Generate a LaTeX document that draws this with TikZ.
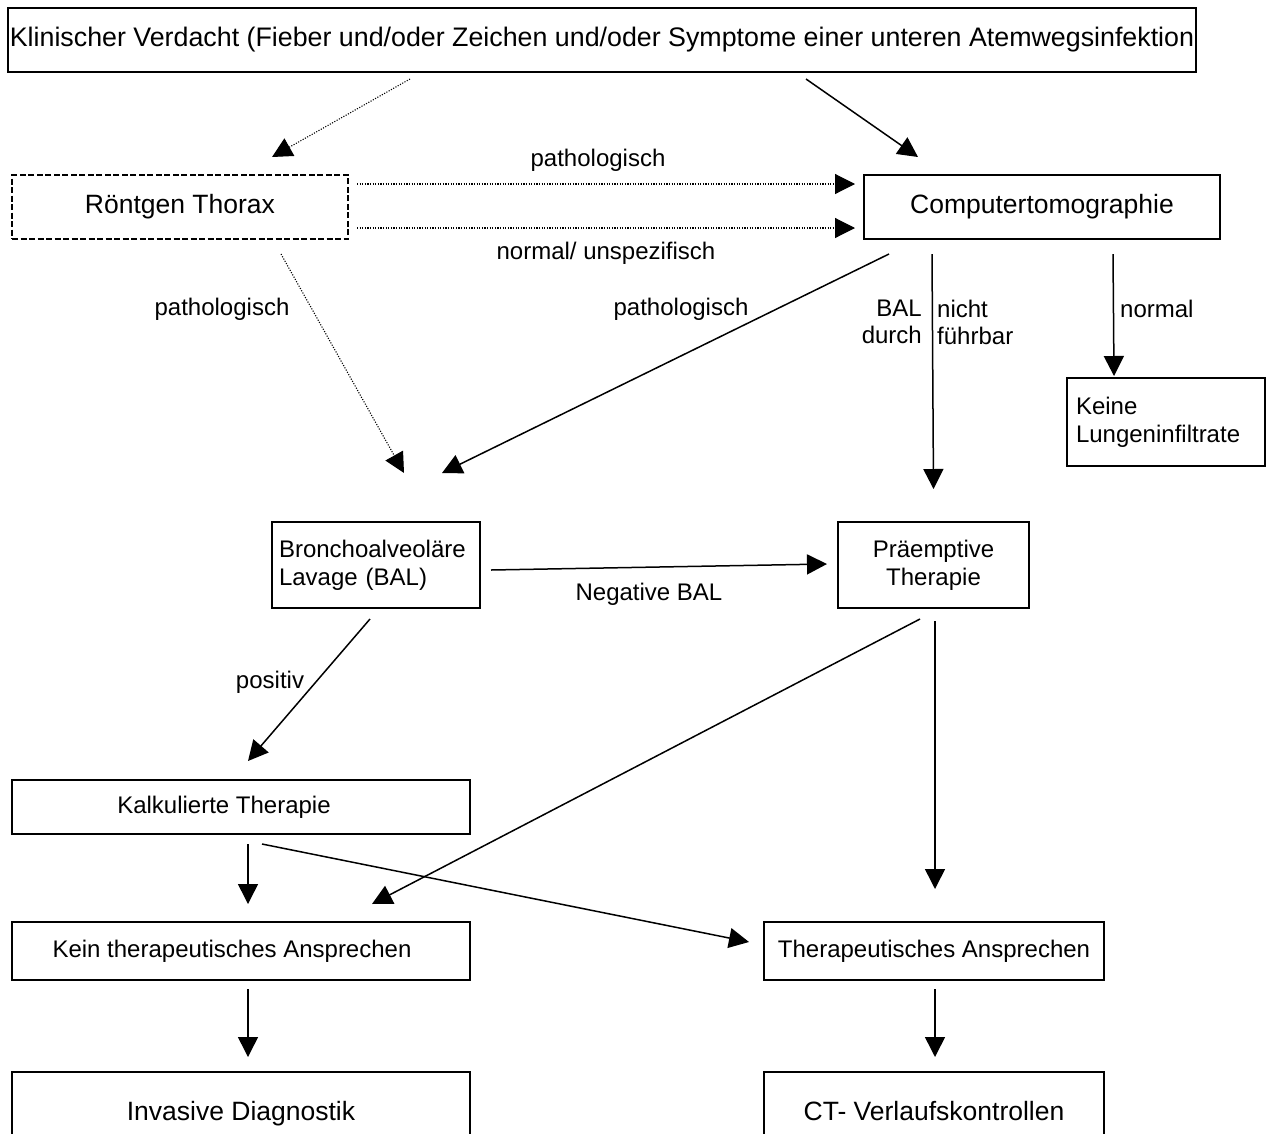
\documentclass[tikz,border=0pt]{standalone}
\usepackage{fontspec}
\setmainfont{Liberation Sans}
\usetikzlibrary{arrows.meta, positioning}

\begin{document}
\begin{tikzpicture}[x=1pt, y=-1pt,
    box/.style={draw, line width=2pt, inner sep=0pt, align=center, font=\fontsize{24}{28}\selectfont},
    bigtext/.style={font=\fontsize{26.5}{30}\selectfont},
    dashbox/.style={box, dash pattern=on 6pt off 2.5pt},
    arr/.style={line width=1.5pt, -{Triangle[length=20pt, width=20pt]}},
    dotarr/.style={arr, line width=1.1pt, dash pattern=on 1.1pt off 1.5pt},
    lbl/.style={inner sep=0pt, font=\fontsize{24}{27}\selectfont}]
        \useasboundingbox (0,0) rectangle (1266,1133);
        \clip (0,0) rectangle (1266,1133);

        % Boxes
        \node[box, font=\fontsize{26.8}{30}\selectfont, minimum width=1188pt, minimum height=64pt] (verdacht) at (602,40) {Klinischer Verdacht (Fieber und/oder Zeichen und/oder Symptome einer unteren Atemwegsinfektion};
        \node[dashbox, bigtext, minimum width=336pt, minimum height=64pt] (roentgen) at (180,207) {Röntgen Thorax};
        \node[box, bigtext, minimum width=356pt, minimum height=64pt] (ct) at (1042,207) {Computertomographie};
        \node[box, align=left, text width=180pt, inner xsep=9pt, minimum height=88pt] (keine) at (1166,422) {Keine\\Lungeninfiltrate};
        \node[box, align=left, text width=194pt, inner xsep=7pt, minimum height=86pt] (bal) at (376,565) {Bronchoalveoläre\\Lavage (BAL)};
        \node[box, minimum width=191pt, minimum height=86pt] (praem) at (933.5,565) {Präemptive\\Therapie};
        \node[box, minimum width=458pt, minimum height=54pt] (kalk) at (241,807) {\hspace*{-34pt}Kalkulierte Therapie};
        \node[box, minimum width=458pt, minimum height=58pt] (kein) at (241,951) {\hspace*{-18pt}Kein therapeutisches Ansprechen};
        \node[box, minimum width=340pt, minimum height=58pt] (ther) at (934,951) {Therapeutisches Ansprechen};
        \node[box, bigtext, minimum width=458pt, minimum height=90pt] (inv) at (241,1117) {\raisebox{12pt}{Invasive Diagnostik}};
        \node[box, bigtext, minimum width=340pt, minimum height=90pt] (ctv) at (934,1117) {\raisebox{12pt}{CT- Verlaufskontrollen}};

        % Labels
        \node[lbl] (lpatha) at (598,160) {pathologisch};
        \node[lbl] (lnorm) at (606,253) {normal/ unspezifisch};
        \node[lbl] (lpathb) at (222,309) {pathologisch};
        \node[lbl] (lpathc) at (681,309) {pathologisch};
        \node[lbl, align=right, anchor=east] (lbal) at (922,322) {BAL\\durch};
        \node[lbl, align=left, anchor=west] (lnicht) at (937,322) {nicht\\führbar};
        \node[lbl, anchor=west] (lnormal) at (1120,309) {normal};
        \node[lbl] (lneg) at (649,594) {Negative BAL};
        \node[lbl] (lpos) at (270,682) {positiv};

        % Connectors
        \draw[dotarr] ([xshift=-192pt, yshift=-6pt]verdacht.south) -- ([xshift=92pt, yshift=17pt]roentgen.north);
        \draw[arr] ([xshift=204pt, yshift=-6pt]verdacht.south) -- ([xshift=-124pt, yshift=17pt]ct.north);
        \draw[dotarr] ([xshift=8pt, yshift=23pt]roentgen.east) -- ([xshift=-8pt, yshift=23pt]ct.west);
        \draw[dotarr] ([xshift=8pt, yshift=-21pt]roentgen.east) -- ([xshift=-8pt, yshift=-21pt]ct.west);
        \draw[dotarr] ([xshift=101pt, yshift=-14pt]roentgen.south) -- ([xshift=28pt, yshift=48pt]bal.north);
        \draw[arr] ([xshift=-153pt, yshift=-14pt]ct.south) -- ([xshift=66pt, yshift=48pt]bal.north);
        \draw[arr] ([xshift=-110pt, yshift=-14pt]ct.south) -- ([yshift=32pt]praem.north);
        \draw[arr] ([xshift=71pt, yshift=-14pt]ct.south) -- ([xshift=-52pt, yshift=1pt]keine.north);
        \draw[arr] ([xshift=10pt, yshift=-5pt]bal.east) -- ([xshift=-10pt, yshift=1pt]praem.west);
        \draw[arr] ([xshift=-6pt, yshift=-10pt]bal.south) -- ([xshift=7pt, yshift=18pt]kalk.north);
        \draw[arr] ([xshift=-13.5pt, yshift=-10pt]praem.south) -- ([xshift=131pt, yshift=17pt]kein.north);
        \draw[arr] ([xshift=1.5pt, yshift=-12pt]praem.south) -- ([xshift=1pt, yshift=32pt]ther.north);
        \draw[arr] ([xshift=7pt, yshift=-9pt]kalk.south) -- ([xshift=7pt, yshift=17pt]kein.north);
        \draw[arr] ([xshift=21pt, yshift=-9pt]kalk.south) -- ([xshift=-14pt, yshift=9pt]ther.west);
        \draw[arr] ([xshift=7pt, yshift=-8pt]kein.south) -- ([xshift=7pt, yshift=14pt]inv.north);
        \draw[arr] ([xshift=1pt, yshift=-8pt]ther.south) -- ([xshift=1pt, yshift=14pt]ctv.north);
    \end{tikzpicture}
\end{document}
